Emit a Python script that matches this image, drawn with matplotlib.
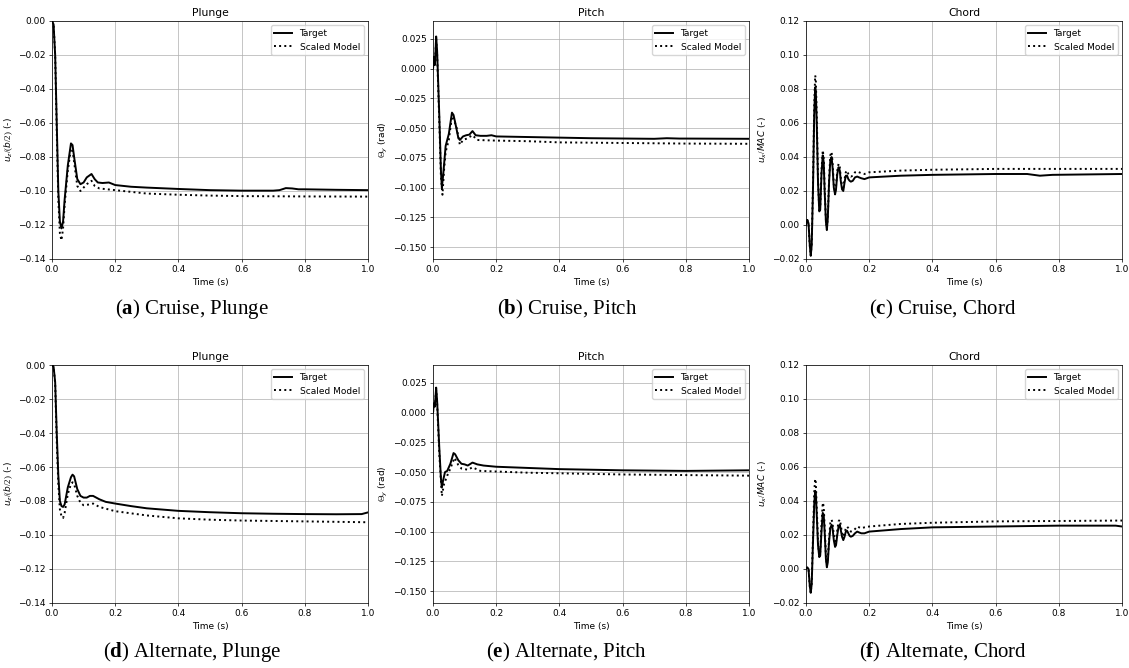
import numpy as np
import matplotlib
matplotlib.use('Agg')
import matplotlib.pyplot as plt

# scale factor of the original 6.4x4.8 figures inside the page
s = 0.645
plt.rcParams['font.size'] = 10 * s
plt.rcParams['axes.linewidth'] = 0.8 * s
plt.rcParams['xtick.major.width'] = 0.8 * s
plt.rcParams['ytick.major.width'] = 0.8 * s
plt.rcParams['xtick.major.size'] = 3.5 * s
plt.rcParams['ytick.major.size'] = 3.5 * s
plt.rcParams['xtick.major.pad'] = 3.5 * s
plt.rcParams['ytick.major.pad'] = 3.5 * s
plt.rcParams['grid.linewidth'] = 0.8 * s
plt.rcParams['mathtext.fontset'] = 'custom'
plt.rcParams['mathtext.rm'] = 'Liberation Serif'
plt.rcParams['mathtext.bf'] = 'Liberation Serif:bold'

# ---- (a) cruise, plunge
t_cp_tar = [0, 0.005, 0.01, 0.015, 0.02, 0.025, 0.03, 0.035, 0.04, 0.05, 0.06, 0.065, 0.07, 0.08, 0.09,
            0.1, 0.11, 0.125, 0.135, 0.145, 0.16, 0.18, 0.2, 0.25, 0.3, 0.4, 0.5, 0.6, 0.7, 0.72, 0.74,
            0.76, 0.78, 0.8, 0.9, 1.0]
y_cp_tar = [0, -0.002, -0.02, -0.06, -0.1, -0.118, -0.122, -0.118, -0.105, -0.085, -0.072, -0.073, -0.08,
            -0.093, -0.096, -0.095, -0.092, -0.090, -0.093, -0.095, -0.0953, -0.095, -0.0965, -0.0975,
            -0.098, -0.0988, -0.0995, -0.0998, -0.0998, -0.0995, -0.0983, -0.0985, -0.099, -0.099,
            -0.0993, -0.0995]
t_cp_sca = [0, 0.005, 0.01, 0.015, 0.02, 0.025, 0.03, 0.035, 0.04, 0.05, 0.06, 0.065, 0.07, 0.08, 0.09,
            0.1, 0.11, 0.125, 0.135, 0.15, 0.2, 0.3, 0.4, 0.5, 0.6, 0.8, 1.0]
y_cp_sca = [0, -0.002, -0.02, -0.065, -0.105, -0.125, -0.129, -0.122, -0.108, -0.088, -0.075, -0.076,
            -0.083, -0.097, -0.1, -0.098, -0.096, -0.094, -0.097, -0.0985, -0.0995, -0.1015, -0.1022,
            -0.1027, -0.103, -0.1032, -0.1033]

# ---- (b) cruise, pitch
t_ct_tar = [0, 0.003, 0.006, 0.01, 0.013, 0.02, 0.025, 0.028, 0.032, 0.04, 0.05, 0.06, 0.065, 0.07,
            0.08, 0.085, 0.095, 0.105, 0.115, 0.125, 0.135, 0.15, 0.17, 0.185, 0.2, 0.3, 0.5, 0.7,
            0.74, 0.78, 0.8, 1.0]
y_ct_tar = [0, 0.01, 0.003, 0.027, 0.015, -0.04, -0.085, -0.1, -0.09, -0.065, -0.055, -0.037, -0.039,
            -0.045, -0.058, -0.06, -0.057, -0.056, -0.0555, -0.0525, -0.056, -0.0565, -0.0565, -0.056,
            -0.057, -0.0575, -0.0585, -0.059, -0.0585, -0.0588, -0.0588, -0.059]
t_ct_sca = [0, 0.003, 0.006, 0.01, 0.013, 0.02, 0.025, 0.03, 0.035, 0.04, 0.05, 0.06, 0.065, 0.075,
            0.085, 0.095, 0.105, 0.125, 0.14, 0.2, 0.3, 0.4, 0.6, 0.8, 1.0]
y_ct_sca = [0, 0.009, 0.002, 0.025, 0.012, -0.045, -0.09, -0.106, -0.085, -0.07, -0.06, -0.04, -0.042,
            -0.05, -0.064, -0.06, -0.059, -0.056, -0.06, -0.0605, -0.061, -0.062, -0.0625, -0.063,
            -0.0632]

# ---- (c) cruise, chord
t_cc_tar = [0, 0.004, 0.008, 0.012, 0.015, 0.018, 0.022, 0.026, 0.029, 0.031, 0.034, 0.038, 0.042,
            0.045, 0.049, 0.053, 0.056, 0.059, 0.063, 0.066, 0.069, 0.073, 0.077, 0.081, 0.084,
            0.088, 0.092, 0.095, 0.099, 0.103, 0.107, 0.11, 0.114, 0.118, 0.122, 0.126, 0.13,
            0.134, 0.138, 0.142, 0.148, 0.155, 0.162, 0.168, 0.175, 0.185, 0.2, 0.25, 0.3, 0.4, 0.6,
            0.7, 0.74, 0.78, 1.0]
y_cc_tar = [0, 0.003, 0.001, -0.012, -0.018, -0.012, 0.02, 0.065, 0.081, 0.079, 0.06, 0.025, 0.008,
            0.009, 0.03, 0.041, 0.037, 0.02, 0.002, -0.003, 0.004, 0.025, 0.038, 0.04, 0.034,
            0.022, 0.018, 0.021, 0.03, 0.034, 0.032, 0.026, 0.021, 0.02, 0.025, 0.029, 0.029,
            0.027, 0.026, 0.0255, 0.026, 0.028, 0.0285, 0.028, 0.0275, 0.027, 0.028, 0.0285, 0.029,
            0.0295, 0.03, 0.03, 0.029, 0.0295, 0.03]
t_cc_sca = [0, 0.004, 0.008, 0.012, 0.015, 0.018, 0.022, 0.026, 0.029, 0.031, 0.034, 0.038, 0.042,
            0.045, 0.049, 0.053, 0.056, 0.059, 0.063, 0.066, 0.069, 0.073, 0.077, 0.081, 0.084,
            0.088, 0.092, 0.095, 0.099, 0.103, 0.107, 0.11, 0.114, 0.118, 0.122, 0.126, 0.13,
            0.134, 0.138, 0.142, 0.148, 0.155, 0.162, 0.168, 0.175, 0.185, 0.2, 0.3, 0.4, 0.6, 1.0]
y_cc_sca = [0, 0.003, 0.001, -0.012, -0.018, -0.011, 0.022, 0.07, 0.088, 0.086, 0.065, 0.027, 0.009,
            0.01, 0.032, 0.044, 0.04, 0.022, 0.003, -0.002, 0.005, 0.027, 0.041, 0.043, 0.037,
            0.024, 0.019, 0.023, 0.032, 0.036, 0.034, 0.028, 0.023, 0.022, 0.027, 0.031, 0.032,
            0.03, 0.029, 0.0285, 0.029, 0.031, 0.0315, 0.031, 0.0305, 0.03, 0.031, 0.032, 0.0325,
            0.033, 0.033]

# ---- (d) alternate, plunge
t_ap_tar = [0, 0.005, 0.01, 0.015, 0.02, 0.025, 0.03, 0.035, 0.04, 0.045, 0.05, 0.06, 0.065, 0.07,
            0.08, 0.09, 0.1, 0.11, 0.12, 0.13, 0.15, 0.17, 0.2, 0.25, 0.3, 0.4, 0.5, 0.6, 0.7, 0.8,
            0.9, 0.98, 1.0]
y_ap_tar = [0, -0.001, -0.01, -0.04, -0.065, -0.08, -0.083, -0.0835, -0.082, -0.077, -0.072, -0.066,
            -0.0645, -0.0655, -0.073, -0.077, -0.078, -0.078, -0.077, -0.077, -0.079, -0.0805,
            -0.0815, -0.083, -0.0843, -0.0858, -0.0866, -0.0872, -0.0875, -0.0877, -0.0878,
            -0.0877, -0.0867]
t_ap_sca = [0, 0.005, 0.01, 0.015, 0.02, 0.025, 0.03, 0.035, 0.04, 0.05, 0.06, 0.065, 0.07, 0.08,
            0.09, 0.1, 0.12, 0.13, 0.15, 0.2, 0.3, 0.4, 0.5, 0.6, 0.8, 1.0]
y_ap_sca = [0, -0.001, -0.011, -0.045, -0.07, -0.085, -0.089, -0.09, -0.087, -0.076, -0.07, -0.069,
            -0.07, -0.077, -0.081, -0.0825, -0.082, -0.0815, -0.0835, -0.086, -0.0885, -0.0902,
            -0.091, -0.0915, -0.092, -0.0925]

# ---- (e) alternate, pitch
t_at_tar = [0, 0.003, 0.006, 0.01, 0.013, 0.02, 0.025, 0.028, 0.032, 0.038, 0.045, 0.055, 0.065,
            0.07, 0.08, 0.09, 0.1, 0.11, 0.125, 0.14, 0.16, 0.2, 0.3, 0.4, 0.6, 0.8, 1.0]
y_at_tar = [0, 0.008, 0.006, 0.021, 0.01, -0.03, -0.055, -0.063, -0.057, -0.05, -0.049, -0.043,
            -0.034, -0.035, -0.04, -0.043, -0.0435, -0.0445, -0.042, -0.0435, -0.0445, -0.0455,
            -0.0465, -0.0475, -0.0485, -0.049, -0.0485]
t_at_sca = [0, 0.003, 0.006, 0.01, 0.013, 0.02, 0.028, 0.035, 0.045, 0.055, 0.068, 0.08, 0.09, 0.11,
            0.125, 0.15, 0.2, 0.3, 0.4, 0.6, 0.8, 1.0]
y_at_sca = [0, 0.007, 0.005, 0.019, 0.008, -0.035, -0.07, -0.06, -0.053, -0.047, -0.038, -0.044,
            -0.047, -0.048, -0.046, -0.049, -0.0495, -0.0505, -0.051, -0.052, -0.0525, -0.053]

# ---- (f) alternate, chord
t_ac_tar = [0, 0.004, 0.008, 0.012, 0.015, 0.018, 0.022, 0.026, 0.029, 0.031, 0.034, 0.038, 0.042,
            0.045, 0.049, 0.053, 0.056, 0.059, 0.063, 0.066, 0.069, 0.073, 0.077, 0.081, 0.084,
            0.088, 0.092, 0.095, 0.099, 0.103, 0.107, 0.11, 0.114, 0.118, 0.122, 0.126, 0.13,
            0.134, 0.138, 0.142, 0.148, 0.155, 0.162, 0.168, 0.175, 0.185, 0.2, 0.3, 0.4, 0.6, 0.8,
            0.98, 1.0]
y_ac_tar = [0, 0.001, 0.0, -0.01, -0.014, -0.009, 0.015, 0.038, 0.046, 0.045, 0.032, 0.014, 0.007,
            0.008, 0.022, 0.033, 0.032, 0.022, 0.006, 0.001, 0.004, 0.016, 0.024, 0.026, 0.024,
            0.017, 0.013, 0.014, 0.02, 0.025, 0.026, 0.023, 0.019, 0.017, 0.019, 0.022, 0.0225,
            0.021, 0.0195, 0.019, 0.0195, 0.021, 0.022, 0.0215, 0.021, 0.021, 0.022, 0.0235, 0.0245,
            0.025, 0.0255, 0.0255, 0.025]
t_ac_sca = [0, 0.004, 0.008, 0.012, 0.015, 0.018, 0.022, 0.026, 0.029, 0.031, 0.034, 0.038, 0.042,
            0.045, 0.049, 0.053, 0.056, 0.059, 0.063, 0.066, 0.069, 0.073, 0.077, 0.081, 0.084,
            0.088, 0.092, 0.095, 0.099, 0.103, 0.107, 0.11, 0.114, 0.118, 0.122, 0.126, 0.13,
            0.134, 0.138, 0.142, 0.148, 0.155, 0.162, 0.168, 0.175, 0.185, 0.2, 0.3, 0.4, 0.6, 1.0]
y_ac_sca = [0, 0.001, 0.0, -0.01, -0.014, -0.008, 0.018, 0.045, 0.053, 0.051, 0.036, 0.016, 0.008,
            0.01, 0.026, 0.039, 0.037, 0.025, 0.008, 0.002, 0.006, 0.018, 0.027, 0.029, 0.027,
            0.02, 0.015, 0.016, 0.023, 0.028, 0.029, 0.026, 0.021, 0.019, 0.021, 0.024, 0.025,
            0.024, 0.0225, 0.022, 0.0225, 0.0235, 0.025, 0.0245, 0.024, 0.0245, 0.025, 0.0265,
            0.0272, 0.028, 0.0285]

titles = ['Plunge', 'Pitch', 'Chord']
ylabels = ['$u_z/(b/2)$ (-)', r'$\Theta_y$ (rad)', '$u_x/MAC$ (-)']
ylims = [(-0.14, 0.0), (-0.16, 0.04), (-0.02, 0.12)]
yticks = [np.round(np.arange(-0.14, 0.001, 0.02), 3),
          np.round(np.arange(-0.15, 0.026, 0.025), 3),
          np.round(np.arange(-0.02, 0.121, 0.02), 3)]
captions = [['a', 'Cruise, Plunge'], ['b', 'Cruise, Pitch'], ['c', 'Cruise, Chord'],
            ['d', 'Alternate, Plunge'], ['e', 'Alternate, Pitch'], ['f', 'Alternate, Chord']]

series = [
    [(t_cp_tar, y_cp_tar, t_cp_sca, y_cp_sca), (t_ct_tar, y_ct_tar, t_ct_sca, y_ct_sca),
     (t_cc_tar, y_cc_tar, t_cc_sca, y_cc_sca)],
    [(t_ap_tar, y_ap_tar, t_ap_sca, y_ap_sca), (t_at_tar, y_at_tar, t_at_sca, y_at_sca),
     (t_ac_tar, y_ac_tar, t_ac_sca, y_ac_sca)],
]

W, H = 1129, 668
fig = plt.figure(figsize=(W / 100, H / 100), dpi=100)

lefts = [52, 433, 806]
tops = [21, 365]
aw, ah = 316, 238
cap_x = [192, 567, 943]
cap_y = [309, 652]

for r in range(2):
    for c in range(3):
        ax = fig.add_axes([lefts[c] / W, 1 - (tops[r] + ah) / H, aw / W, ah / H])
        tt, yt, ts, ys = series[r][c]
        ax.plot(tt, yt, color='black', lw=1.4, label='Target')
        ax.plot(ts, ys, color='black', lw=1.4, ls=':', label='Scaled Model')
        ax.set_xlim(0, 1)
        ax.set_ylim(*ylims[c])
        ax.set_yticks(yticks[c])
        ax.set_xticks(np.round(np.arange(0, 1.01, 0.2), 1))
        ax.grid(True)
        ax.set_title(titles[c], fontsize=12 * s, pad=6 * s)
        ax.set_xlabel('Time (s)', labelpad=4 * s)
        ax.set_ylabel(ylabels[c], labelpad=4 * s)
        ax.legend(loc='upper right')
        letter, text = captions[r * 3 + c]
        fig.text(cap_x[c] / W, 1 - cap_y[r] / H, r'($\mathbf{%s}$) %s' % (letter, text),
                 ha='center', va='center', fontsize=15, family='Liberation Serif')

fig.savefig('out.png', dpi=100)
